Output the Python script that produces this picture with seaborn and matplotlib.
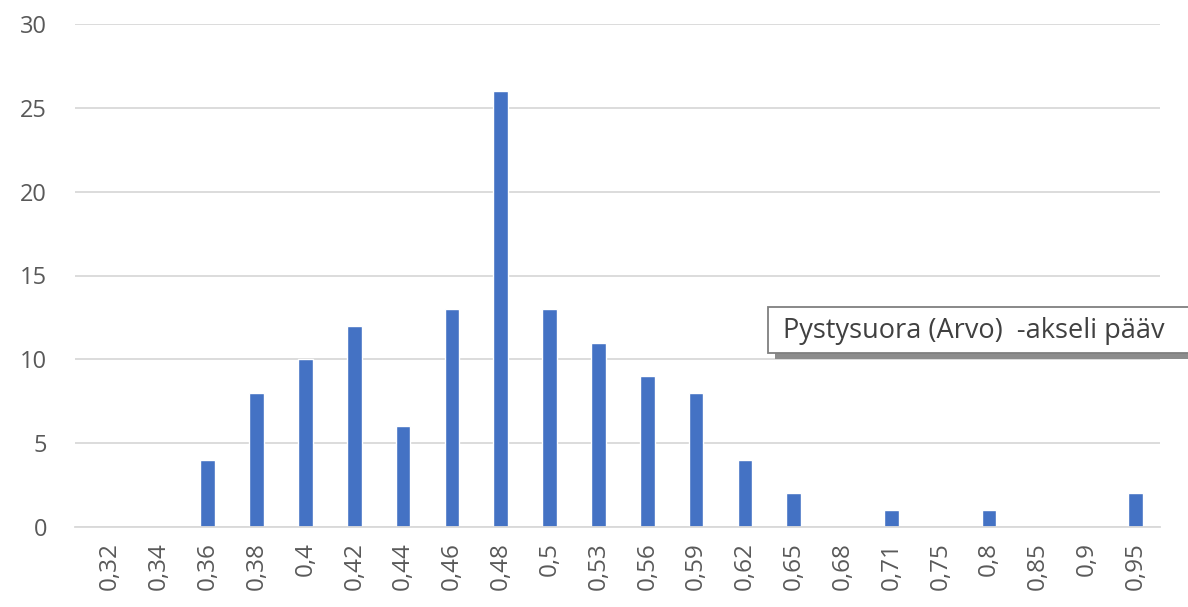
import pandas as pd
import seaborn as sns
import matplotlib.pyplot as plt
from matplotlib.patches import Rectangle

# category labels (Finnish decimal comma) and counts
labels = ['0,32', '0,34', '0,36', '0,38', '0,4', '0,42', '0,44', '0,46', '0,48', '0,5', '0,53',
          '0,56', '0,59', '0,62', '0,65', '0,68', '0,71', '0,75', '0,8', '0,85', '0,9', '0,95']
counts = [0, 0, 4, 8, 10, 12, 6, 13, 26, 13, 11, 9, 8, 4, 2, 0, 1, 0, 1, 0, 0, 2]

df = pd.DataFrame({'label': labels, 'count': counts})

sns.set_style('white')
plt.rcParams['font.family'] = ['Open Sans', 'DejaVu Sans']

W, H = 1188, 607
fig = plt.figure(figsize=(W / 100, H / 100), dpi=100)
ax = fig.add_axes([75 / W, 1 - 527 / H, 1085 / W, 503 / H])

sns.barplot(data=df, x='label', y='count', color='#4472C4', width=0.3,
            saturation=1, ax=ax, order=labels)

ax.set_xlim(-0.72, 21.5)
ax.set_ylim(0, 30)
ax.set_yticks(range(0, 31, 5))
ax.yaxis.grid(True, color='#D9D9D9', linewidth=1.3)
ax.set_axisbelow(True)
for s in ['top', 'right', 'left']:
    ax.spines[s].set_visible(False)
ax.spines['bottom'].set_color('#D9D9D9')
ax.spines['bottom'].set_linewidth(1.3)
ax.set_xlabel('')
ax.set_ylabel('')
ax.tick_params(axis='x', labelrotation=90, labelsize=17.5, colors='#595959', length=0, pad=11)
ax.tick_params(axis='y', labelsize=17, colors='#595959', length=0, pad=20)

# hover tooltip seen in the screenshot (with its drop shadow)
fig.patches.append(Rectangle((775 / W, 1 - 359 / H), 420 / W, 46 / H,
                             transform=fig.transFigure, fc='#8C8C8C', ec='none', zorder=5))
fig.patches.append(Rectangle((768 / W, 1 - 353 / H), 430 / W, 46 / H,
                             transform=fig.transFigure, fc='white', ec='#7F7F7F', lw=1.3, zorder=6))
fig.text(783 / W, 1 - 331 / H, 'Pystysuora (Arvo)  -akseli pääv', fontsize=19.5,
         color='#404040', va='center', ha='left', zorder=7)

plt.savefig('out.png', dpi=100)
